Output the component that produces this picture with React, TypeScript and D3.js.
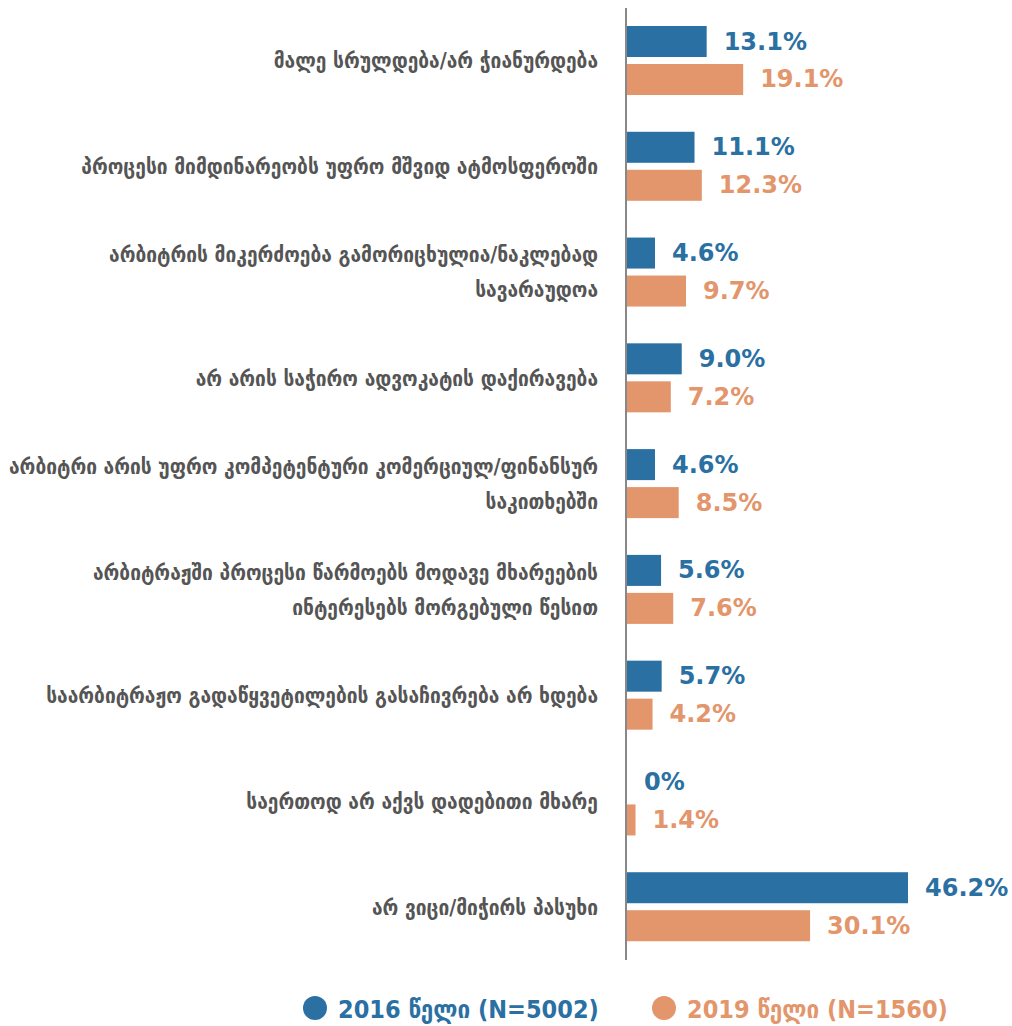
import React, { useRef, useEffect } from 'react';
import * as d3 from 'd3';

const categories: string[][] = [
	['მალე სრულდება/არ ჭიანურდება'],
	['პროცესი მიმდინარეობს უფრო მშვიდ ატმოსფეროში'],
	['არბიტრის მიკერძოება გამორიცხულია/ნაკლებად', 'სავარაუდოა'],
	['არ არის საჭირო ადვოკატის დაქირავება'],
	['არბიტრი არის უფრო კომპეტენტური კომერციულ/ფინანსურ', 'საკითხებში'],
	['არბიტრაჟში პროცესი წარმოებს მოდავე მხარეების', 'ინტერესებს მორგებული წესით'],
	['საარბიტრაჟო გადაწყვეტილების გასაჩივრება არ ხდება'],
	['საერთოდ არ აქვს დადებითი მხარე'],
	['არ ვიცი/მიჭირს პასუხი'],
];

const values2016 = [13.1, 11.1, 4.6, 9.0, 4.6, 5.6, 5.7, 0, 46.2];
const values2019 = [19.1, 12.3, 9.7, 7.2, 8.5, 7.6, 4.2, 1.4, 30.1];
const valueLabels2016 = ['13.1%', '11.1%', '4.6%', '9.0%', '4.6%', '5.6%', '5.7%', '0%', '46.2%'];
const valueLabels2019 = ['19.1%', '12.3%', '9.7%', '7.2%', '8.5%', '7.6%', '4.2%', '1.4%', '30.1%'];

const seriesNames = ['2016 წელი (N=5002)', '2019 წელი (N=1560)'];
const colors = ['#2a70a2', '#e3956b'];

const W = 1012;
const H = 1026;

const App: React.FC = () => {
	const svgRef = useRef<SVGSVGElement | null>(null);

	useEffect(() => {
		const svg = d3.select(svgRef.current);
		svg.selectAll('*').remove();

		const x0 = 627;
		const xScale = d3
			.scaleLinear()
			.domain([0, d3.max(values2016.concat(values2019)) || 0])
			.range([x0, 908]);

		const idx = categories.map((_, i) => i);
		const yScale = d3.scaleBand<number>().domain(idx).range([8, 960]);
		const yInner = d3
			.scaleBand<number>()
			.domain([0, 1])
			.range([18, 87])
			.paddingInner(0.184);

		const seriesVals = [values2016, values2019];
		const seriesLabels = [valueLabels2016, valueLabels2019];

		// bars + value labels
		seriesVals.forEach((vals, s) => {
			const g = svg.append('g');
			g.selectAll('rect')
				.data(vals)
				.join('rect')
				.attr('x', x0)
				.attr('y', (_, i) => (yScale(i) as number) + (yInner(s) as number))
				.attr('width', (d) => xScale(d) - x0)
				.attr('height', yInner.bandwidth())
				.attr('fill', colors[s]);

			g.selectAll('text')
				.data(vals)
				.join('text')
				.attr('x', (d) => xScale(d) + 17)
				.attr(
					'y',
					(_, i) =>
						(yScale(i) as number) + (yInner(s) as number) + yInner.bandwidth() / 2
				)
				.attr('dominant-baseline', 'central')
				.attr('fill', colors[s])
				.style('font-family', '"DejaVu Sans", sans-serif')
				.style('font-weight', 'bold')
				.style('font-size', '24px')
				.text((_, i) => seriesLabels[s][i]);
		});

		// category labels
		const lineH = 35;
		const labels = svg.append('g');
		categories.forEach((lines, i) => {
			const cy = (yScale(i) as number) + yScale.bandwidth() / 2;
			const top = cy - ((lines.length - 1) * lineH) / 2;
			lines.forEach((line, j) => {
				labels
					.append('text')
					.attr('x', 598)
					.attr('y', top + j * lineH)
					.attr('text-anchor', 'end')
					.attr('dominant-baseline', 'central')
					.attr('fill', '#555555')
					.style('font-family', '"DejaVu Sans Condensed", "DejaVu Sans", sans-serif')
					.style('font-weight', 'bold')
					.style('font-size', '21.3px')
					.text(line);
			});
		});

		// axis line
		svg.append('line')
			.attr('x1', 626)
			.attr('x2', 626)
			.attr('y1', 8)
			.attr('y2', 960)
			.attr('stroke', '#888888')
			.attr('stroke-width', 2);

		// legend
		const legendX = [315, 664];
		const legend = svg.append('g');
		seriesNames.forEach((name, s) => {
			legend
				.append('circle')
				.attr('cx', legendX[s])
				.attr('cy', 1008)
				.attr('r', 12)
				.attr('fill', colors[s]);
			legend
				.append('text')
				.attr('x', legendX[s] + 23)
				.attr('y', 1009)
				.attr('dominant-baseline', 'central')
				.attr('fill', colors[s])
				.style('font-family', '"DejaVu Sans Condensed", "DejaVu Sans", sans-serif')
				.style('font-weight', 'bold')
				.style('font-size', '25px')
				.text(name);
		});
	}, []);

	return (
		<svg
			ref={svgRef}
			width={W}
			height={H}
			style={{ position: 'absolute', left: 0, top: 0, background: '#fff' }}
		/>
	);
};

export default App;
